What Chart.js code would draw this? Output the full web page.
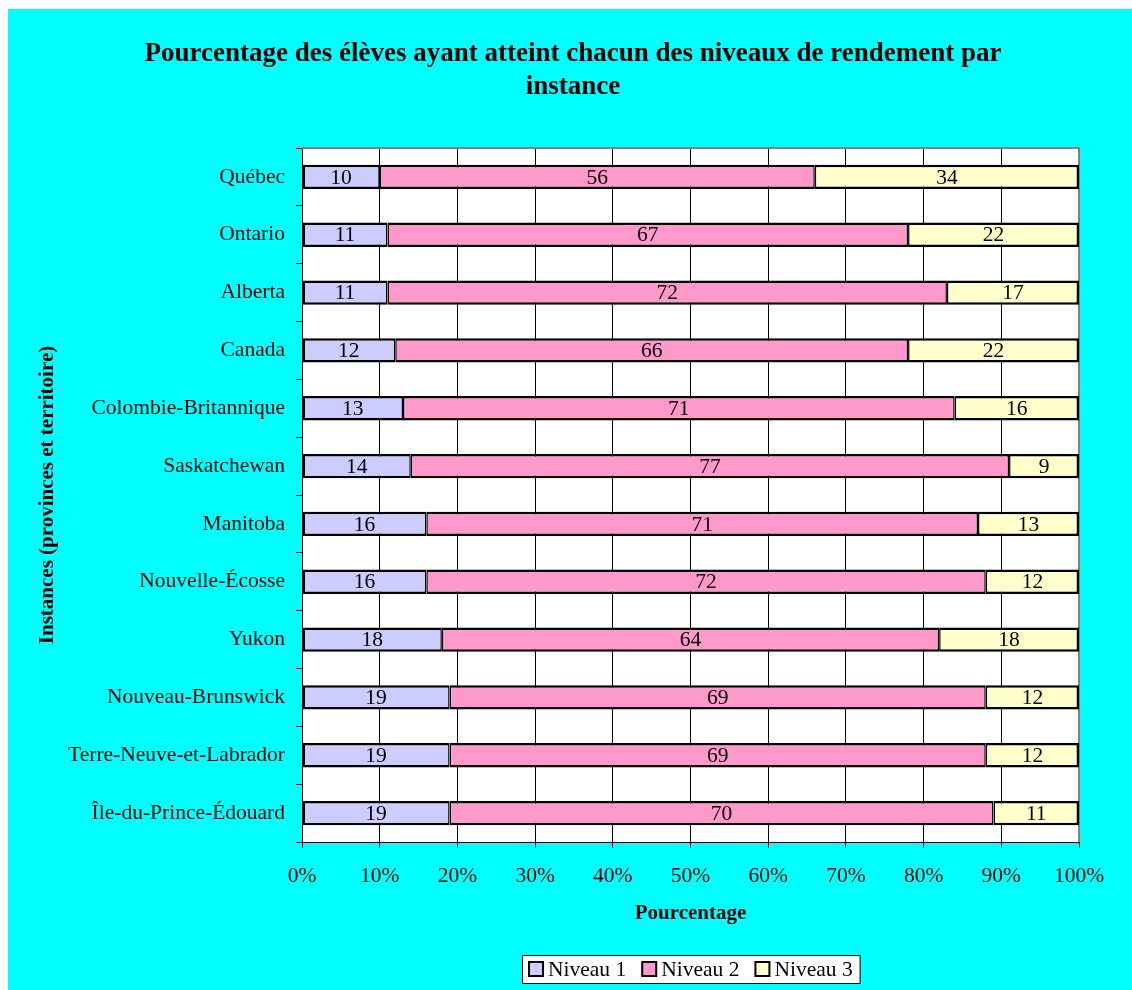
<!DOCTYPE html>
<html lang="fr">
<head>
<meta charset="utf-8">
<title>Pourcentage des élèves par niveau de rendement</title>
<script src="https://cdn.jsdelivr.net/npm/chart.js@4/dist/chart.umd.min.js"></script>
<style>
  html, body { margin: 0; padding: 0; background: #ffffff; }
  #wrap { position: absolute; left: 8px; top: 9px; width: 1124px; height: 981px; background: #00ffff; }
  canvas { display: block; }
</style>
</head>
<body>
<div id="wrap"><canvas id="niveaux" width="1124" height="981"></canvas></div>
<script>
const instances = ["Québec", "Ontario", "Alberta", "Canada", "Colombie-Britannique", "Saskatchewan",
  "Manitoba", "Nouvelle-Écosse", "Yukon", "Nouveau-Brunswick", "Terre-Neuve-et-Labrador", "Île-du-Prince-Édouard"];
const niveau1 = [10, 11, 11, 12, 13, 14, 16, 16, 18, 19, 19, 19];
const niveau2 = [56, 67, 72, 66, 71, 77, 71, 72, 64, 69, 69, 70];
const niveau3 = [34, 22, 17, 22, 16, 9, 13, 12, 18, 12, 12, 11];
const titre = ["Pourcentage des élèves ayant atteint chacun des niveaux de rendement par", "instance"];

const police = "Liberation Serif";
Chart.defaults.font.family = police;
Chart.defaults.font.size = 21.5;
Chart.defaults.color = "#000";

// fond blanc de la zone de tracé
const fondPlugin = {
  id: "fond",
  beforeDraw(chart) {
    const { ctx, chartArea: a } = chart;
    ctx.save();
    ctx.fillStyle = "#fff";
    ctx.fillRect(a.left, a.top, a.right - a.left, a.bottom - a.top);
    ctx.restore();
  }
};

// titre du graphique, centré comme dans l'original
const titrePlugin = {
  id: "titre",
  afterDraw(chart) {
    const ctx = chart.ctx;
    ctx.save();
    ctx.font = "bold 27px '" + police + "'";
    ctx.fillStyle = "#000";
    ctx.textAlign = "center";
    ctx.textBaseline = "middle";
    titre.forEach((t, i) => ctx.fillText(t, 565, 45 + i * 33));
    ctx.restore();
  }
};

// cadre de la zone de tracé (haut et droite en gris)
const cadrePlugin = {
  id: "cadre",
  beforeDatasetsDraw(chart) {
    const { ctx, chartArea: a } = chart;
    ctx.save();
    ctx.strokeStyle = "#808080";
    ctx.lineWidth = 2;
    ctx.beginPath();
    ctx.moveTo(a.left, a.top);
    ctx.lineTo(a.right, a.top);
    ctx.lineTo(a.right, a.bottom);
    ctx.stroke();
    ctx.restore();
  }
};

// valeurs au centre de chaque segment
const etiquettes = {
  id: "etiquettes",
  afterDatasetsDraw(chart) {
    const ctx = chart.ctx;
    ctx.save();
    ctx.font = "21.5px '" + police + "'";
    ctx.fillStyle = "#000";
    ctx.textAlign = "center";
    ctx.textBaseline = "middle";
    chart.data.datasets.forEach((ds, i) => {
      chart.getDatasetMeta(i).data.forEach((bar, j) => {
        ctx.fillText(ds.data[j], (bar.x + bar.base) / 2, bar.y + 1);
      });
    });
    ctx.restore();
  }
};

// légende encadrée sous le graphique
const legende = {
  id: "legende",
  afterDraw(chart) {
    const { ctx, chartArea: a } = chart;
    ctx.save();
    ctx.font = "21.5px '" + police + "'";
    const sw = 14, gap = 5, space = 16, pad = 7;
    const items = chart.data.datasets.map(d => ({ label: d.label, color: d.backgroundColor, w: ctx.measureText(d.label).width }));
    let total = pad * 2;
    items.forEach((it, i) => { total += sw + gap + it.w + (i < items.length - 1 ? space : 0); });
    const cx = (a.left + a.right) / 2;
    const top = 946, h = 28;
    let x = Math.round(cx - total / 2);
    ctx.fillStyle = "#fff";
    ctx.fillRect(x, top, total, h);
    ctx.strokeStyle = "#000";
    ctx.lineWidth = 1;
    ctx.strokeRect(x + 0.5, top + 0.5, total, h);
    x += pad;
    ctx.textBaseline = "middle";
    ctx.textAlign = "left";
    items.forEach(it => {
      ctx.fillStyle = it.color;
      ctx.fillRect(x, top + 7, sw, sw);
      ctx.lineWidth = 2;
      ctx.strokeRect(x, top + 7, sw, sw);
      x += sw + gap;
      ctx.fillStyle = "#000";
      ctx.fillText(it.label, x, top + h / 2 + 1);
      x += it.w + space;
    });
    ctx.restore();
  }
};

const contour = (l, r) => ({ top: 2.5, bottom: 2.5, left: l, right: r });

new Chart("niveaux", {
  type: "bar",
  data: {
    labels: instances,
    datasets: [
      { label: "Niveau 1", data: niveau1, backgroundColor: "#ccccff", borderColor: "#000", borderWidth: contour(2.5, 1.5) },
      { label: "Niveau 2", data: niveau2, backgroundColor: "#ff99cc", borderColor: "#000", borderWidth: contour(1.5, 1.5) },
      { label: "Niveau 3", data: niveau3, backgroundColor: "#ffffcc", borderColor: "#000", borderWidth: contour(1.5, 2.5) }
    ]
  },
  options: {
    indexAxis: "y",
    responsive: false,
    animation: false,
    layout: { padding: { top: 139, left: 0, right: 53, bottom: 48 } },
    datasets: { bar: { barPercentage: 0.42, categoryPercentage: 1, borderSkipped: false } },
    scales: {
      x: {
        stacked: true,
        min: 0,
        max: 100,
        ticks: { stepSize: 10, padding: 15, callback: v => v + "%" },
        grid: { color: "#000", lineWidth: 1, tickLength: 6 },
        border: { color: "#000", width: 1 },
        title: { display: true, text: "Pourcentage", font: { weight: "bold", size: 21 }, padding: { top: 0, bottom: 16 } },
        afterFit(scale) { scale.height = 100; }
      },
      y: {
        stacked: true,
        ticks: { padding: 11 },
        grid: { drawOnChartArea: false, color: "#000", tickLength: 6 },
        border: { color: "#000", width: 1 },
        title: { display: true, text: "Instances (provinces et territoire)", font: { weight: "bold", size: 21 }, padding: { top: 27, bottom: 0 } },
        afterFit(scale) { scale.width = 294; }
      }
    },
    plugins: {
      legend: { display: false },
      title: { display: false },
      tooltip: { enabled: false }
    }
  },
  plugins: [fondPlugin, titrePlugin, cadrePlugin, etiquettes, legende]
});
</script>
</body>
</html>
